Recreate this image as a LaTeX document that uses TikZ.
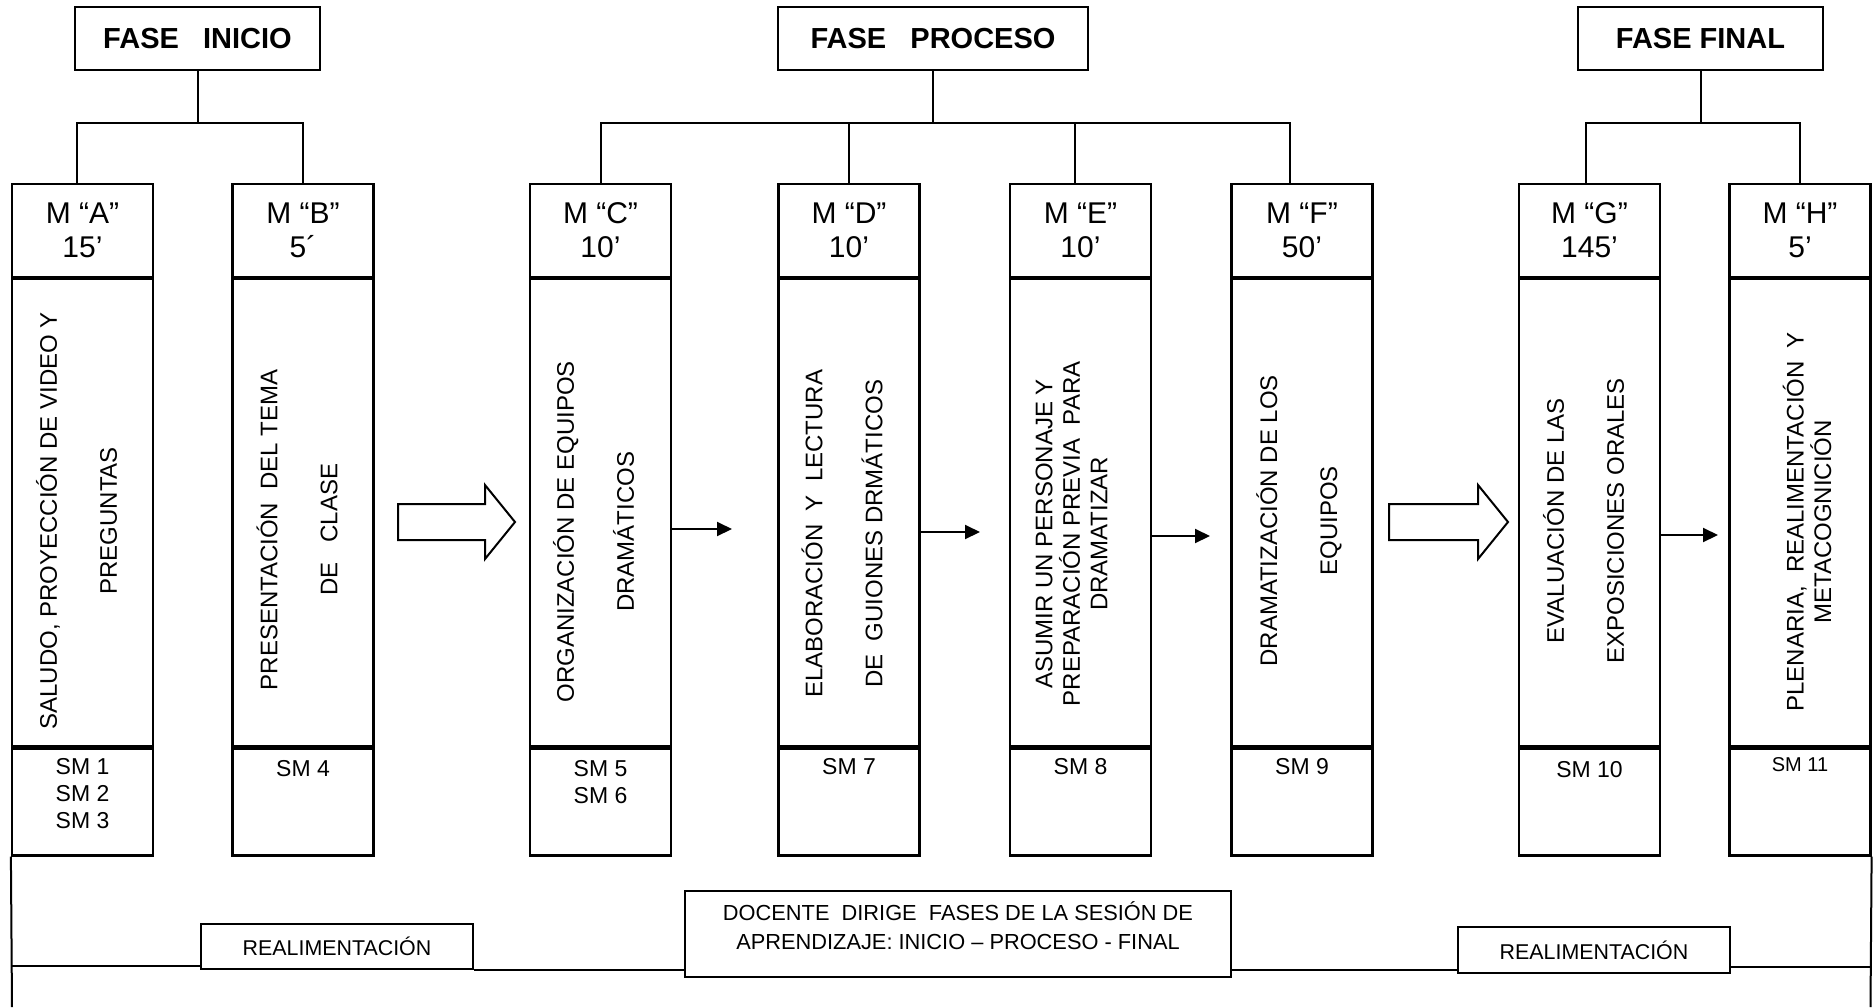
\documentclass[tikz,border=0pt]{standalone}
\usepackage{fontspec}
\setmainfont{Liberation Sans}
\usetikzlibrary{arrows.meta,calc}
\begin{document}
\begin{tikzpicture}[x=0.5pt,y=-0.5pt,
  phasebox/.style={draw, line width=1.1pt, inner sep=0pt, minimum height=31.5pt, font=\fontsize{14.5}{17}\selectfont\bfseries},
  modbox/.style={draw, line width=1.1pt, inner sep=0pt, minimum width=70.5pt, anchor=north},
  headbox/.style={modbox, minimum height=46.5pt, align=center, font=\fontsize{15}{17}\selectfont},
  bodybox/.style={modbox, minimum height=233.5pt},
  smbox/.style={modbox, minimum height=53.5pt},
  vtext/.style={rotate=90, align=center, inner sep=0pt, font=\fontsize{12}{30}\selectfont},
  vtextsingle/.style={rotate=90, align=center, inner sep=0pt, font=\fontsize{12}{13.75}\selectfont},
  smtext/.style={anchor=north, align=center, inner sep=0pt, font=\fontsize{11.5}{13.5}\selectfont},
  link/.style={line width=1pt},
  thinarrow/.style={line width=1pt, -{Triangle[length=7.5pt,width=7pt]}},
  blockarrow/.style={draw, line width=1pt, line join=miter},
  framebox/.style={draw, line width=1.1pt, inner sep=0pt, align=center, font=\fontsize{10.7}{14}\selectfont},
  frametext/.style={align=center, inner sep=0pt, font=\fontsize{10.9}{14.5}\selectfont},
]
\fill[white] (0,0) rectangle (1874,1007);
\useasboundingbox (0,0) rectangle (1874,1007);

% phase boxes
\node[phasebox, minimum width=122.5pt] (pI) at (197.5,38.5) {FASE~~~INICIO};
\node[phasebox, minimum width=155pt]   (pP) at (933,38.5)   {FASE~~~PROCESO};
\node[phasebox, minimum width=122.5pt] (pF) at (1700.5,38.5) {FASE FINAL};

% module boxes
\node[headbox] (hA) at (82.5,183)  {M “A”\\15’};
\node[headbox] (hB) at (303,183)   {M “B”\\5´};
\node[headbox] (hC) at (600.5,183) {M “C”\\10’};
\node[headbox] (hD) at (849,183)   {M “D”\\10’};
\node[headbox] (hE) at (1080.5,183) {M “E”\\10’};
\node[headbox] (hF) at (1302,183)  {M “F”\\50’};
\node[headbox] (hG) at (1589.5,183) {M “G”\\145’};
\node[headbox] (hH) at (1800,183)  {M “H”\\5’};

\foreach \m in {A,B,C,D,E,F,G,H}{
  \node[bodybox] (b\m) at (h\m.south) {};
  \node[smbox] (s\m) at (b\m.south) {};
}

% body texts
\node[vtext] (tA) at ($(bA.center)+(-6,8)$) {SALUDO, PROYECCIÓN DE VIDEO Y\\PREGUNTAS};
\node[vtext] (tB) at ($(bB.center)+(-6,17)$) {PRESENTACIÓN~~DEL TEMA\\DE~~~CLASE};
\node[vtext] (tC) at ($(bC.center)+(-7,19)$) {ORGANIZACIÓN DE EQUIPOS\\DRAMÁTICOS};
\node[vtext] (tD) at ($(bD.center)+(-7,21)$) {ELABORACIÓN~~Y~~LECTURA\\DE~~GUIONES DRMÁTICOS};
\node[vtextsingle] (tE) at ($(bE.center)+(-9,21)$) {ASUMIR UN PERSONAJE Y\\PREPARACIÓN PREVIA~~PARA\\DRAMATIZAR};
\node[vtext] (tF) at ($(bF.center)+(-3,8)$) {DRAMATIZACIÓN DE LOS\\EQUIPOS};
\node[vtext] (tG) at ($(bG.center)+(-6,8)$) {EVALUACIÓN DE LAS\\EXPOSICIONES ORALES};
\node[vtextsingle] (tH) at ($(bH.center)+(7,9)$) {PLENARIA,~~REALIMENTACIÓN~~Y\\METACOGNICIÓN};

% SM texts
\node[smtext] (mA) at ($(sA.north)+(0,11)$) {SM 1\\SM 2\\SM 3};
\node[smtext] (mB) at ($(sB.north)+(0,13)$) {SM 4};
\node[smtext] (mC) at ($(sC.north)+(0,13)$) {SM 5\\SM 6};
\node[smtext] (mD) at ($(sD.north)+(0,11)$) {SM 7};
\node[smtext] (mE) at ($(sE.north)+(0,11)$) {SM 8};
\node[smtext] (mF) at ($(sF.north)+(0,11)$) {SM 9};
\node[smtext] (mG) at ($(sG.north)+(0,14)$) {SM 10};
\node[smtext, font=\fontsize{10}{12}\selectfont] (mH) at ($(sH.north)+(0,10)$) {SM 11};

% tree connectors
\coordinate (lvl) at (0,123);
\coordinate (cA) at ($(hA.north)+(-6,0)$);
\coordinate (cB) at (hB.north);
\coordinate (cC) at (hC.north);
\coordinate (cD) at (hD.north);
\coordinate (cE) at ($(hE.north)+(-6,0)$);
\coordinate (cF) at ($(hF.north)+(-12,0)$);
\coordinate (cG) at ($(hG.north)+(-4,0)$);
\coordinate (cH) at (hH.north);
\draw[link] (pI.south) -- (pI.south |- lvl);
\draw[link] (pP.south) -- (pP.south |- lvl);
\draw[link] (pF.south) -- (pF.south |- lvl);
\draw[link] (cA) |- (cB |- lvl) -- (cB);
\draw[link] (cC) |- (cF |- lvl) -- (cF);
\draw[link] (cD) -- (cD |- lvl);
\draw[link] (cE) -- (cE |- lvl);
\draw[link] (cG) |- (cH |- lvl) -- (cH);

% block arrows
\draw[blockarrow] (398,504) -- (485,504) -- (485,485) -- (515,522) -- (485,559) -- (485,540) -- (398,540) -- cycle;
\draw[blockarrow] (1389,504) -- (1478,504) -- (1478,485) -- (1508,522) -- (1478,559) -- (1478,540) -- (1389,540) -- cycle;

% thin arrows
\coordinate (eCD) at (732,529);
\coordinate (eDE) at (980,532);
\coordinate (eEF) at (1210,536);
\coordinate (eGH) at (1718,535);
\draw[thinarrow] (bC.east |- eCD) -- (eCD);
\draw[thinarrow] (bD.east |- eDE) -- (eDE);
\draw[thinarrow] (bE.east |- eEF) -- (eEF);
\draw[thinarrow] (bG.east |- eGH) -- (eGH);

% bottom frame
\node[framebox, minimum width=136pt, minimum height=22.5pt] (r1) at (337,946.5) {REALIMENTACIÓN};
\node[framebox, minimum width=273pt, minimum height=43pt] (dc) at (958,934) {};
\node[frametext] (dct) at ($(dc.center)+(0,-8)$) {DOCENTE~~DIRIGE~~FASES DE LA SESIÓN DE\\APRENDIZAJE: INICIO – PROCESO - FINAL};
\node[framebox, minimum width=136pt, minimum height=23pt] (r2) at (1594,950) {REALIMENTACIÓN};

\coordinate (fL) at (12,1007);
\coordinate (fR) at (1870.5,1007);
\coordinate (yl) at (0,966);
\coordinate (ym) at (0,970);
\coordinate (yr) at (0,967);
\draw[link] (sA.south west) -- (fL);
\draw[link] (sH.south east) -- (fR);
\draw[link] (fL |- yl) -- (r1.west |- yl);
\draw[link] (r1.south east) -- (r1.south east -| dc.west);
\draw[link] (dc.east |- ym) -- (r2.west |- ym);
\draw[link] (r2.east |- yr) -- (fR |- yr);
\end{tikzpicture}
\end{document}
